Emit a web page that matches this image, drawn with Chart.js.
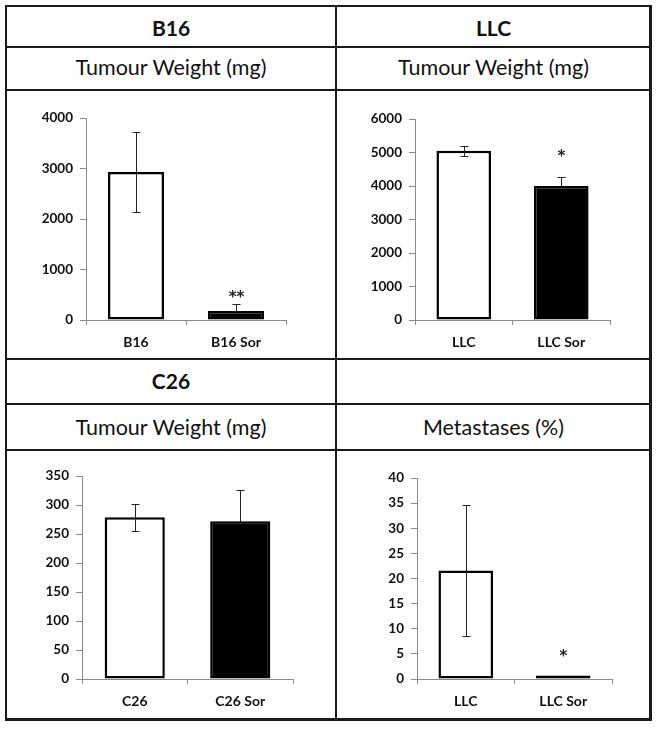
<!DOCTYPE html>
<html>
<head>
<meta charset="utf-8">
<script src="https://cdn.jsdelivr.net/npm/chart.js@4.4.1/dist/chart.umd.min.js"></script>
<style>
  body { margin: 0; background: #fff; width: 658px; height: 729px; position: relative; overflow: hidden; font-family: Lato, "Open Sans", sans-serif; color: #111; }
  .frame { position: absolute; left: 5px; top: 5px; width: 647px; height: 716px; box-sizing: border-box; border: 2px solid #1a1a1a; border-right-width: 3px; border-bottom-width: 3px; }
  .hline { position: absolute; height: 2px; background: #1a1a1a; }
  .vline { position: absolute; width: 2px; background: #1a1a1a; }
  .txt { position: absolute; text-align: center; }
  .head { font-weight: bold; font-size: 21px; }
  .sub { font-size: 21.5px; }
  canvas { position: absolute; }
</style>
</head>
<body>
<div class="frame"></div>
<div class="hline" style="left:5px; width:647px; top:46px;"></div>
<div class="hline" style="left:5px; width:647px; top:89px;"></div>
<div class="hline" style="left:5px; width:647px; top:358px;"></div>
<div class="hline" style="left:5px; width:647px; top:403px;"></div>
<div class="hline" style="left:5px; width:647px; top:449px;"></div>
<div class="vline" style="left:335px; top:5px; height:716px;"></div>

<div class="txt head" style="left:7px; width:328px; top:15px;">B16</div>
<div class="txt head" style="left:337px; width:313px; top:15px;">LLC</div>
<div class="txt sub" style="left:7px; width:328px; top:54px;">Tumour Weight (mg)</div>
<div class="txt sub" style="left:337px; width:313px; top:54px;">Tumour Weight (mg)</div>
<div class="txt head" style="left:7px; width:328px; top:368px;">C26</div>
<div class="txt sub" style="left:7px; width:328px; top:414px;">Tumour Weight (mg)</div>
<div class="txt sub" style="left:337px; width:313px; top:414px;">Metastases (%)</div>

<canvas id="grafB16" style="left:7px; top:91px;" width="328" height="267"></canvas>
<canvas id="grafLLC" style="left:337px; top:91px;" width="313" height="267"></canvas>
<canvas id="grafC26" style="left:7px; top:451px;" width="328" height="268"></canvas>
<canvas id="grafMet" style="left:337px; top:451px;" width="313" height="268"></canvas>

<script>
// B16 tumour weight (mg)
let labelsB16 = ['B16', 'B16 Sor']
let dataB16 = [2930, 180]
let errB16 = [790, 135]
let sigB16 = ['', '**']
let sigPosB16 = [0, 540]
let ticksB16 = [0, 4000, 1000]   // min, max, step

// LLC tumour weight (mg)
let labelsLLC = ['LLC', 'LLC Sor']
let dataLLC = [5050, 4000]
let errLLC = [140, 270]
let sigLLC = ['', '*']
let sigPosLLC = [0, 5020]
let ticksLLC = [0, 6000, 1000]

// C26 tumour weight (mg)
let labelsC26 = ['C26', 'C26 Sor']
let dataC26 = [279, 272]
let errC26 = [23, 54]
let sigC26 = ['', '']
let sigPosC26 = [0, 0]
let ticksC26 = [0, 350, 50]

// LLC metastases (%)
let labelsMet = ['LLC', 'LLC Sor']
let dataMet = [21.6, 0.7]
let errMet = [13, 0]
let sigMet = ['', '*']
let sigPosMet = [0, 5.4]
let ticksMet = [0, 40, 5]

const corBarras = ['#ffffff', '#000000']

// draws the error bars and the significance stars
const errorBars = {
    id: 'errorBars',
    afterDatasetsDraw(chart) {
        const ds = chart.data.datasets[0]
        const meta = chart.getDatasetMeta(0)
        const y = chart.scales.y
        const ctx = chart.ctx
        ctx.save()
        ctx.strokeStyle = '#222'
        ctx.lineWidth = 1
        meta.data.forEach((bar, i) => {
            const err = ds.errors[i]
            const x = Math.round(bar.x) + 0.5
            if (err) {
                const top = Math.round(y.getPixelForValue(ds.data[i] + err)) + 0.5
                let bot = Math.round(y.getPixelForValue(ds.data[i] - err)) + 0.5
                const filled = ds.backgroundColor[i] === '#000000'
                if (filled) bot = Math.round(bar.y) + 1
                ctx.beginPath()
                ctx.moveTo(x, top); ctx.lineTo(x, bot)
                ctx.moveTo(x - 4, top); ctx.lineTo(x + 4, top)
                if (!filled) {
                    ctx.moveTo(x - 4, bot); ctx.lineTo(x + 4, bot)
                }
                ctx.stroke()
            }
            if (ds.sig[i]) {
                ctx.fillStyle = '#222'
                ctx.font = 'bold 15px "DejaVu Sans"'
                ctx.textAlign = 'center'
                ctx.textBaseline = 'alphabetic'
                ctx.fillText(ds.sig[i], x, y.getPixelForValue(ds.sigPos[i]) + 9)
            }
        })
        ctx.restore()
    }
}

// area = chart area inside each canvas (left, top, right, bottom)
function plotarGrafico(id, labels, values, errors, sig, sigPos, ticks, area, barPct) {
    const canvas = document.getElementById(id)
    const data = {
        labels: labels,
        datasets: [
            {
                data: values,
                errors: errors,
                sig: sig,
                sigPos: sigPos,
                backgroundColor: corBarras,
                borderColor: '#000000',
                borderWidth: 2.5,
                borderSkipped: false,
                barPercentage: barPct,
                categoryPercentage: 1,
            },
        ],
    }
    const config = {
        type: 'bar',
        data,
        plugins: [errorBars],
        options: {
            responsive: false,
            animation: false,
            events: [],
            layout: {
                padding: { left: 0, top: area[1], right: canvas.width - area[2], bottom: 0 },
            },
            plugins: {
                legend: { display: false },
                tooltip: { enabled: false },
            },
            scales: {
                x: {
                    afterFit: (scale) => { scale.height = canvas.height - area[3] },
                    border: { color: '#8a8a8a', width: 1 },
                    grid: { offset: true, drawOnChartArea: false, drawTicks: true, tickLength: 5, color: '#8a8a8a' },
                    ticks: { color: '#111', font: { family: 'Lato', weight: 'bold', size: 14 }, padding: 9 },
                },
                y: {
                    min: ticks[0],
                    max: ticks[1],
                    afterFit: (scale) => { scale.width = area[0] },
                    border: { color: '#8a8a8a', width: 1 },
                    grid: { drawOnChartArea: false, drawTicks: true, tickLength: 6, color: '#8a8a8a' },
                    ticks: {
                        stepSize: ticks[2],
                        color: '#111',
                        font: { family: 'Lato', weight: 'bold', size: 13.5 },
                        padding: 7,
                        callback: (v) => v,
                    },
                },
            },
        },
    }
    return new Chart(canvas.getContext('2d'), config)
}

plotarGrafico('grafB16', labelsB16, dataB16, errB16, sigB16, sigPosB16, ticksB16, [79, 27, 279, 229], 0.56)
plotarGrafico('grafLLC', labelsLLC, dataLLC, errLLC, sigLLC, sigPosLLC, ticksLLC, [78, 28, 273, 229], 0.56)
plotarGrafico('grafC26', labelsC26, dataC26, errC26, sigC26, sigPosC26, ticksC26, [75, 25, 286, 228], 0.57)
plotarGrafico('grafMet', labelsMet, dataMet, errMet, sigMet, sigPosMet, ticksMet, [80, 27, 275, 228], 0.56)
</script>
</body>
</html>
